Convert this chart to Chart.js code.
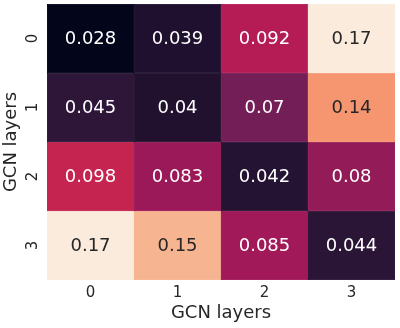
<!DOCTYPE html>
<html>
<head>
<meta charset="utf-8">
<script src="https://cdn.jsdelivr.net/npm/chart.js@4/dist/chart.umd.min.js"></script>
<style>
  html, body { margin: 0; padding: 0; background: #fff; }
  #wrap { width: 400px; height: 328px; }
</style>
</head>
<body>
<div id="wrap"><canvas id="myChart"></canvas></div>
<script>
// heatmap values, row by row (y = GCN layers, x = GCN layers)
const xLabels = ['0', '1', '2', '3'];
const yLabels = ['0', '1', '2', '3'];
const row0 = [0.028, 0.039, 0.092, 0.17];
const row1 = [0.045, 0.04, 0.07, 0.14];
const row2 = [0.098, 0.083, 0.042, 0.08];
const row3 = [0.17, 0.15, 0.085, 0.044];
const rows = [row0, row1, row2, row3];

// seaborn "rocket" anchors
const rocket = [
  [0.0, [3, 5, 26]],
  [0.143, [53, 25, 62]],
  [0.286, [112, 31, 87]],
  [0.429, [173, 23, 89]],
  [0.571, [225, 51, 66]],
  [0.714, [243, 118, 81]],
  [0.857, [246, 180, 143]],
  [1.0, [250, 235, 221]]
];

const all = rows.flat();
const vmin = Math.min(...all);
const vmax = Math.max(...all);

function rocketRGB(v) {
  let t = (v - vmin) / (vmax - vmin);
  t = Math.max(0, Math.min(1, t));
  for (let i = 1; i < rocket.length; i++) {
    if (t <= rocket[i][0]) {
      const a = rocket[i - 1], b = rocket[i];
      const f = (t - a[0]) / (b[0] - a[0]);
      return a[1].map((c, k) => Math.round(c + (b[1][k] - c) * f));
    }
  }
  return rocket[rocket.length - 1][1];
}
function rgbStr(c) { return 'rgb(' + c.join(',') + ')'; }
function lum(c) {
  const l = c.map(x => {
    x = x / 255;
    return x <= 0.03928 ? x / 12.92 : Math.pow((x + 0.055) / 1.055, 2.4);
  });
  return 0.2126 * l[0] + 0.7152 * l[1] + 0.0722 * l[2];
}

const datasets = rows.map(function(r, ri) {
  return {
    label: 'row ' + yLabels[ri],
    data: r.map(() => [ri, ri + 1]),
    values: r,
    backgroundColor: r.map(v => rgbStr(rocketRGB(v))),
    borderColor: r.map(v => rgbStr(rocketRGB(v))),
    borderWidth: 0.5,
    borderSkipped: false,
    grouped: false,
    barPercentage: 1,
    categoryPercentage: 1
  };
});

// writes the value in each cell
const cellText = {
  id: 'cellText',
  afterDatasetsDraw(chart) {
    const ctx = chart.ctx;
    ctx.save();
    ctx.font = '18px "DejaVu Sans"';
    ctx.textAlign = 'center';
    ctx.textBaseline = 'middle';
    chart.data.datasets.forEach(function(ds, di) {
      chart.getDatasetMeta(di).data.forEach(function(bar, i) {
        const v = ds.values[i];
        const c = rocketRGB(v);
        ctx.fillStyle = lum(c) > 0.408 ? '#262626' : '#ffffff';
        const y = (bar.y + bar.base) / 2;
        ctx.fillText(String(v), bar.x, y + 1);
      });
    });
    ctx.restore();
  }
};

const ctx = document.getElementById('myChart').getContext('2d');
const myChart = new Chart(ctx, {
  type: 'bar',
  data: { labels: xLabels, datasets: datasets },
  options: {
    responsive: true,
    maintainAspectRatio: false,
    animation: false,
    layout: { padding: { top: 4, right: 5, left: 0, bottom: 0 } },
    plugins: {
      legend: { display: false },
      tooltip: { enabled: false }
    },
    scales: {
      x: {
        afterFit: function(scale) { scale.height = 48; scale.paddingLeft = 0; scale.paddingRight = 0; },
        grid: { display: false, drawTicks: false },
        border: { display: false },
        ticks: { color: '#262626', font: { family: 'DejaVu Sans', size: 15 }, padding: 4, maxRotation: 0 },
        title: { display: true, text: 'GCN layers', color: '#262626', font: { family: 'DejaVu Sans', size: 18 }, padding: { top: 0, bottom: 4 } }
      },
      y: {
        type: 'linear',
        min: 0,
        max: 4,
        reverse: true,
        afterFit: function(scale) { scale.width = 47; scale.paddingTop = 0; scale.paddingBottom = 0; },
        afterBuildTicks: function(scale) {
          scale.ticks = [0.5, 1.5, 2.5, 3.5].map(v => ({ value: v }));
        },
        grid: { display: false, drawTicks: false },
        border: { display: false },
        ticks: {
          color: '#262626',
          font: { family: 'DejaVu Sans', size: 15 },
          minRotation: 90,
          maxRotation: 90,
          crossAlign: 'center',
          padding: 9,
          callback: function(value) { return yLabels[Math.floor(value)]; }
        },
        title: { display: true, text: 'GCN layers', color: '#262626', font: { family: 'DejaVu Sans', size: 18 }, padding: { top: 1, bottom: 0 } }
      }
    }
  },
  plugins: [cellText]
});
</script>
</body>
</html>
